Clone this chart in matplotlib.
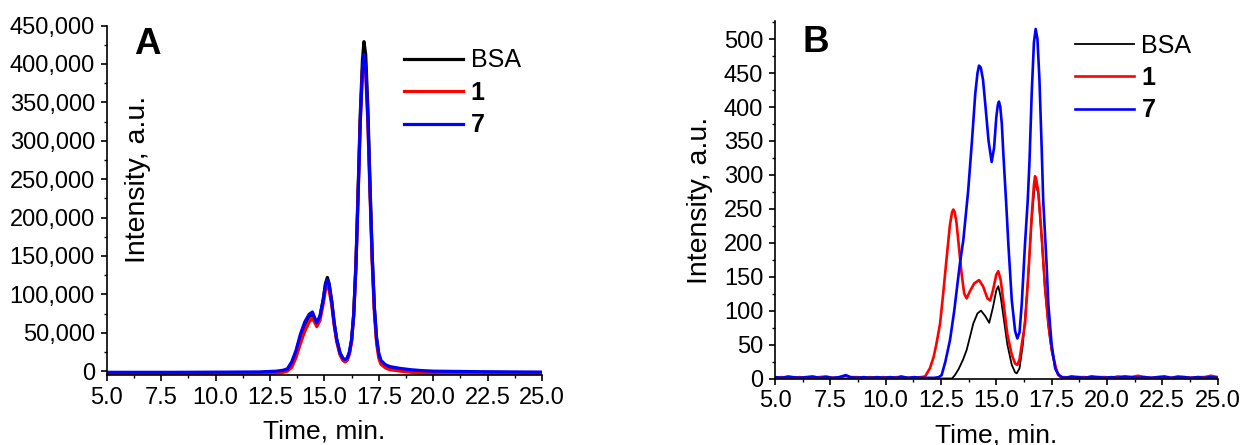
import numpy as np
import matplotlib
matplotlib.use('Agg')
import matplotlib.pyplot as plt
from matplotlib.ticker import MultipleLocator, FuncFormatter

plt.rcParams['font.family'] = ['Liberation Sans', 'DejaVu Sans']

# ---- panel A ----
a_bsa_t = [5.0, 8.0, 10.0, 12.0, 12.8, 13.1, 13.3, 13.5, 13.7, 13.9, 14.1, 14.3, 14.45, 14.55, 14.65,
           14.8, 14.95, 15.05, 15.14, 15.22, 15.34, 15.45, 15.57, 15.72, 15.85, 15.95, 16.05, 16.15,
           16.25, 16.35, 16.45, 16.55, 16.65, 16.75, 16.82, 16.9, 17.0, 17.1, 17.2, 17.3, 17.4, 17.5,
           17.6, 17.8, 18.0, 18.5, 19.0, 19.5, 20.0, 22.5, 25.0]
a_bsa_v = [-2500, -2500, -2300, -2000, -1000, 0, 2000, 10000, 25000, 45000, 61000, 71000, 74000, 68000, 61000,
           71000, 94000, 114000, 122000, 114000, 91000, 63000, 41000, 23000, 16000, 14000, 16000, 24000,
           40000, 75000, 140000, 235000, 335000, 405000, 429000, 412000, 342000, 242000, 150000, 82000, 42000, 22000,
           13000, 7500, 5000, 2500, 800, -300, -800, -1600, -2200]

a_c1_t = a_bsa_t
a_c1_v = [-3800, -3800, -3600, -3300, -2500, -1500, 0, 5000, 18000, 36000, 52000, 64000, 69000, 64000, 58000,
          66000, 88000, 106000, 111000, 105000, 86000, 60000, 38000, 21000, 14000, 12000, 14000, 22000,
          38000, 72000, 135000, 228000, 325000, 390000, 405000, 388000, 322000, 228000, 140000, 75000, 36000, 17000,
          9000, 4500, 2000, 0, -1500, -2500, -3000, -3500, -3800]

a_c7_t = a_bsa_t
a_c7_v = [-1500, -1500, -1300, -1000, 0, 1200, 3000, 12000, 27000, 48000, 64000, 74000, 77000, 70000, 63000,
          72000, 93000, 112000, 119000, 112000, 90000, 63000, 41000, 24000, 17000, 15000, 17000, 25000,
          41000, 74000, 136000, 228000, 325000, 392000, 412000, 396000, 330000, 235000, 147000, 82000, 43000, 23000,
          14000, 8500, 6000, 3500, 1800, 700, 0, -800, -1200]

# ---- panel B ----
b_base_t = [5.0, 5.3, 5.6, 5.8, 6.1, 6.4, 6.7, 7.0, 7.3, 7.6, 7.9, 8.2, 8.4, 8.7, 9.0, 9.3, 9.6, 9.9,
            10.2, 10.5, 10.7, 11.0, 11.3, 11.6]
b_base_blue = [2, 1, 3, 2, 1, 2, 3, 1, 2, 1, 2, 5, 2, 1, 2, 1, 2, 1, 2, 1, 3, 1, 2, 1]
b_base_red = [1, 2, 1, 1, 2, 1, 1, 2, 3, 1, 1, 4, 2, 2, 1, 2, 1, 2, 1, 2, 2, 1, 1, 2]
b_tail_t = [18.1, 18.4, 18.7, 19.0, 19.3, 19.6, 19.9, 20.2, 20.5, 20.8, 21.1, 21.4, 21.7, 22.0, 22.3,
            22.6, 22.9, 23.2, 23.5, 23.8, 24.1, 24.4, 24.7, 25.0]
b_tail_blue = [1, 3, 2, 1, 3, 2, 1, 2, 1, 3, 2, 1, 2, 1, 2, 3, 1, 2, 2, 1, 2, 1, 2, 1]
b_tail_red = [2, 1, 2, 2, 1, 2, 2, 1, 3, 2, 2, 4, 2, 1, 2, 2, 1, 3, 2, 1, 2, 2, 4, 2]

b_c7_peak_t = [11.9, 12.2, 12.4, 12.53, 12.7, 12.91, 13.1, 13.21, 13.35, 13.51, 13.73, 13.9, 14.05, 14.15,
               14.22, 14.3, 14.4, 14.5, 14.65, 14.79, 14.9, 15.0, 15.07, 15.12, 15.18, 15.25, 15.32, 15.44,
               15.55, 15.7, 15.85, 15.95, 16.05, 16.15, 16.3, 16.42, 16.5, 16.6, 16.7, 16.78, 16.86, 16.95,
               17.05, 17.12, 17.27, 17.35, 17.5, 17.66, 17.8, 17.96]
b_c7_peak_v = [1, 1, 2, 5, 25, 57, 100, 130, 168, 204, 277, 350, 420, 450,
               461, 458, 440, 405, 350, 319, 340, 385, 403, 408, 400, 375, 330, 262,
               195, 115, 70, 59, 68, 110, 200, 262, 320, 420, 495, 515, 500, 440,
               340, 262, 170, 110, 50, 15, 6, 2]

b_c1_peak_t = [11.78, 12.0, 12.17, 12.3, 12.46, 12.6, 12.76, 12.9, 13.0, 13.06, 13.12, 13.2, 13.28, 13.43,
               13.55, 13.66, 13.8, 14.0, 14.22, 14.4, 14.6, 14.72, 14.85, 15.0, 15.09, 15.2, 15.35, 15.5,
               15.7, 15.85, 15.95, 16.05, 16.15, 16.3, 16.45, 16.6, 16.7, 16.75, 16.8, 16.9, 17.05, 17.2,
               17.35, 17.45, 17.57, 17.7, 17.8, 17.95]
b_c1_peak_v = [3, 15, 32, 52, 81, 125, 179, 225, 245, 249, 245, 230, 204, 155,
               125, 118, 128, 140, 145, 136, 118, 115, 130, 153, 158, 145, 105, 65,
               35, 22, 20, 28, 50, 81, 155, 240, 285, 298, 294, 275, 210, 135,
               82, 55, 32, 15, 5, 2]

b_bsa_t = [5.0, 13.0, 13.13, 13.3, 13.5, 13.66, 13.8, 13.96, 14.15, 14.31, 14.5, 14.68, 14.85, 15.0, 15.09,
           15.2, 15.35, 15.5, 15.7, 15.85, 15.92, 16.05, 16.2, 16.4, 16.6, 16.75, 16.9, 17.05, 17.2,
           17.35, 17.5, 17.7, 17.9, 18.1, 25.0]
b_bsa_v = [0, 0, 5, 14, 28, 42, 60, 81, 96, 100, 92, 82, 105, 130, 136,
           120, 85, 50, 20, 9, 7.5, 15, 50, 130, 235, 290, 272, 205, 132,
           78, 40, 12, 2, 0, 0]

labels = ['BSA', '1', '7']

fig = plt.figure(figsize=(12.44, 4.45), dpi=100)
W, H = 1244.0, 445.0

axA = fig.add_axes([106.7 / W, (H - 375) / H, (542 - 106.7) / W, (375 - 25.5) / H])
axB = fig.add_axes([775 / W, (H - 378.5) / H, (1217.6 - 775) / W, (378.5 - 21.5) / H])

axA.plot(a_bsa_t, a_bsa_v, color='black', lw=2.3, label=labels[0])
axA.plot(a_c1_t, a_c1_v, color='red', lw=2.3, label=labels[1])
axA.plot(a_c7_t, a_c7_v, color='blue', lw=2.3, label=labels[2])

axB.plot(b_bsa_t, b_bsa_v, color='black', lw=1.3, label=labels[0])
axB.plot(b_base_t + b_c1_peak_t + b_tail_t, b_base_red + b_c1_peak_v + b_tail_red, color='red', lw=1.9, label=labels[1])
axB.plot(b_base_t + b_c7_peak_t + b_tail_t, b_base_blue + b_c7_peak_v + b_tail_blue, color='blue', lw=1.9, label=labels[2])

axA.set_ylim(-5000, 450000)
axB.set_ylim(0, 526)
axA.yaxis.set_major_locator(MultipleLocator(50000))
axA.yaxis.set_minor_locator(MultipleLocator(25000))
axA.yaxis.set_major_formatter(FuncFormatter(lambda v, p: f'{v:,.0f}'))
axB.yaxis.set_major_locator(MultipleLocator(50))
axB.yaxis.set_minor_locator(MultipleLocator(25))

for ax in (axA, axB):
    ax.set_xlim(5, 25)
    ax.xaxis.set_major_locator(MultipleLocator(2.5))
    ax.xaxis.set_minor_locator(MultipleLocator(1.25))
    ax.xaxis.set_major_formatter(FuncFormatter(lambda v, p: f'{v:.1f}'))
    ax.spines['top'].set_visible(False)
    ax.spines['right'].set_visible(False)
    for s in ('left', 'bottom'):
        ax.spines[s].set_linewidth(1.2)
    ax.tick_params(which='major', direction='out', length=4.5, width=1.2, labelsize=17, pad=4)
    ax.tick_params(which='minor', direction='out', length=2.5, width=1.0)
    ax.set_xlabel('Time, min.', fontsize=19, labelpad=8)
    ax.patch.set_alpha(0)

# legends
legA = axA.legend(loc='upper left', bbox_to_anchor=(0.655, 0.97), frameon=False, fontsize=18,
                  handlelength=2.35, handletextpad=0.3, labelspacing=0.34, borderpad=0)
legB = axB.legend(loc='upper left', bbox_to_anchor=(0.65, 1.0), frameon=False, fontsize=18,
                  handlelength=2.35, handletextpad=0.3, labelspacing=0.33, borderpad=0)
for leg in (legA, legB):
    for txt in leg.get_texts():
        if txt.get_text() != 'BSA':
            txt.set_fontweight('bold')

# y labels: A sits inside the frame, B outside
axA.text(0.071, 0.56, 'Intensity, a.u.', rotation=90, transform=axA.transAxes,
         ha='center', va='center', fontsize=20.5)
axB.set_ylabel('Intensity, a.u.', fontsize=20.5, labelpad=8)

axA.text(0.064, 0.995, 'A', transform=axA.transAxes, fontsize=26.5, fontweight='bold', va='top')
axB.text(0.063, 0.99, 'B', transform=axB.transAxes, fontsize=26.5, fontweight='bold', va='top')

fig.savefig('out.png', dpi=100)
